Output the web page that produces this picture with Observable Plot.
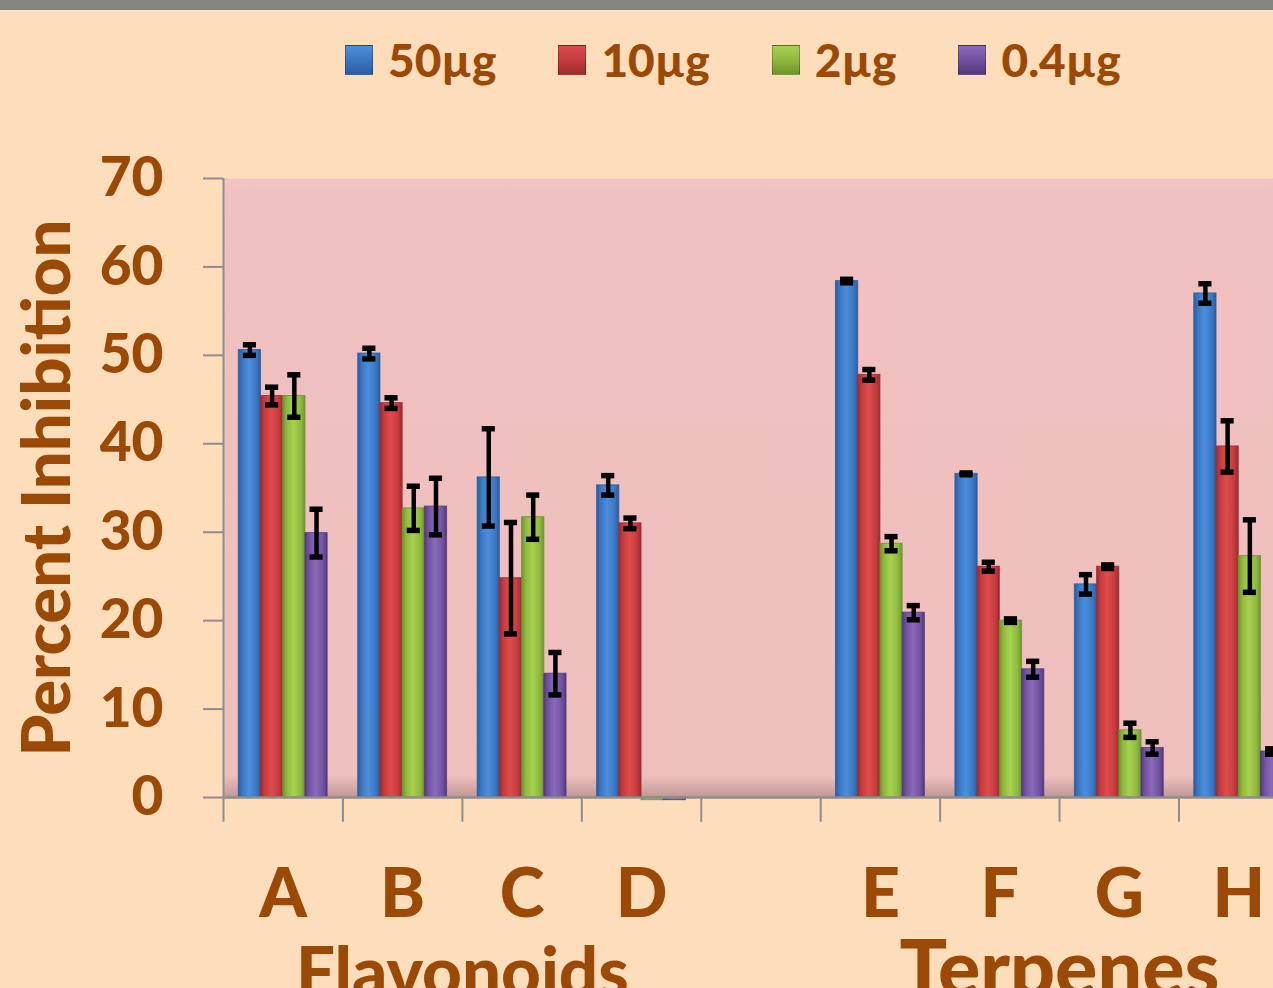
<!DOCTYPE html>
<html><head><meta charset="utf-8">
<script src="https://cdn.jsdelivr.net/npm/d3@7"></script>
<script src="https://cdn.jsdelivr.net/npm/@observablehq/plot@0.6"></script>
<style>
html,body{margin:0;padding:0;}
body{width:1273px;height:988px;overflow:hidden;background:#FEDDBA;position:relative;font-family:Lato,"Open Sans",sans-serif;}
#strip{position:absolute;left:0;top:0;width:1273px;height:10px;background:#86867f;border-bottom:2px solid #F8E6D0;z-index:2}
#legend{position:absolute;top:34px;left:345px;display:flex;align-items:center;gap:62px;font-weight:900;font-size:46px;line-height:52px;color:#9A4A06;z-index:2}
.item{display:flex;align-items:center;gap:15px}
.sw{width:28px;height:30px;box-sizing:border-box;border:1px solid rgba(0,0,0,0.25)}
#chart{position:absolute;left:0;top:0}
</style></head>
<body>
<div id="strip"></div>
<div id="legend"></div>
<div id="chart"></div>
<script>
// ---- data ----
const categories = ["A", "B", "C", "D", "", "E", "F", "G", "H"];
const series = ["50µg", "10µg", "2µg", "0.4µg"];
const values50 = [50.6, 50.2, 36.2, 35.3, null, 58.4, 36.6, 24.1, 57.0];
const errors50 = [0.6, 0.6, 5.5, 1.1, null, 0.2, 0.1, 1.1, 1.1];
const values10 = [45.4, 44.6, 24.8, 31.0, null, 47.8, 26.1, 26.1, 39.7];
const errors10 = [1.0, 0.6, 6.3, 0.6, null, 0.6, 0.5, 0.2, 2.9];
const values2 = [45.4, 32.7, 31.7, -0.3, null, 28.7, 20.0, 7.6, 27.3];
const errors2 = [2.4, 2.5, 2.5, 0, null, 0.8, 0.2, 0.8, 4.1];
const values04 = [29.9, 32.9, 14.0, -0.3, null, 20.9, 14.5, 5.6, 5.2];
const errors04 = [2.7, 3.2, 2.4, 0, null, 0.8, 0.9, 0.7, 0.3];
const groups = [
  {name: "Flavonoids", members: ["A", "B", "C", "D"]},
  {name: "Terpenes", members: ["E", "F", "G", "H"]}
];
const yTicks = [0, 10, 20, 30, 40, 50, 60, 70];

// ---- styles ----
const brown = "#9A4A06";
const axisGray = "#8E8E8E";
const gradients = [
  ["#2B5C9E", "#3A77C3", "#4C8EDC"],
  ["#9C2B2D", "#C63B3D", "#DE4C4C"],
  ["#6E9430", "#8DB93D", "#A9D150"],
  ["#53397B", "#7151A1", "#8B6AB8"]
];
const barW = 0.186;                 // fraction of a category band
const groupPad = (1 - 4 * barW) / 2;
const capHalf = 0.055;

const valueCols = [values50, values10, values2, values04];
const errorCols = [errors50, errors10, errors2, errors04];
const rows = [];
series.forEach((s, j) => {
  categories.forEach((c, i) => {
    const v = valueCols[j][i];
    if (v == null) return;
    rows.push({cat: c, i, j, series: s, value: v, err: errorCols[j][i],
      x1: i + groupPad + j * barW, x2: i + groupPad + (j + 1) * barW});
  });
});
rows.forEach(d => d.xc = (d.x1 + d.x2) / 2);
const errRows = rows.filter(d => d.err > 0);
const groupRows = groups.map(g => ({name: g.name,
  x: d3.mean(g.members, m => categories.indexOf(m)) + 0.5}));
const labelTicks = categories.map((c, i) => i + 0.5).filter((t, i) => categories[i] !== "");

const barMarks = series.map((s, j) => Plot.rectY(rows.filter(d => d.j === j), {
  x1: "x1", x2: "x2", y1: 0, y2: "value",
  fill: `url(#bar${j})`, stroke: gradients[j][0], strokeWidth: 1, strokeOpacity: 0.8
}));

const plot = Plot.plot({
  width: 1273,
  height: 988,
  marginTop: 178,
  marginBottom: 191,
  marginLeft: 223,
  marginRight: 0,
  style: {background: "transparent", overflow: "hidden", fontFamily: "Lato, 'Open Sans', sans-serif", fontWeight: "bold"},
  x: {type: "linear", domain: [0, categories.length], range: [223, 223 + categories.length * 119.44]},
  y: {domain: [0, 70], range: [797, 178]},
  marks: [
    Plot.frame({fill: "url(#bgfill)", stroke: null}),
    ...barMarks,
    Plot.ruleX(errRows, {x: "xc", y1: d => d.value - d.err, y2: d => d.value + d.err, stroke: "black", strokeWidth: 4.5}),
    Plot.ruleY(errRows, {x1: d => d.xc - capHalf, x2: d => d.xc + capHalf, y: d => d.value - d.err, stroke: "black", strokeWidth: 5.5}),
    Plot.ruleY(errRows, {x1: d => d.xc - capHalf, x2: d => d.xc + capHalf, y: d => d.value + d.err, stroke: "black", strokeWidth: 5.5}),
    Plot.ruleX([0], {y1: 0, y2: 70, stroke: axisGray, strokeWidth: 2}),
    Plot.ruleY([0], {stroke: axisGray, strokeWidth: 2.5}),
    Plot.ruleX(d3.range(categories.length + 1), {y1: 0, y2: -2.8, stroke: axisGray, strokeWidth: 2}),
    Plot.axisY({ticks: yTicks, tickSize: 20, tickPadding: 40, stroke: axisGray, strokeWidth: 2, fill: brown, fontSize: 55, fontWeight: 900, label: null}),
    Plot.axisX({ticks: labelTicks, tickSize: 0, tickPadding: 71, fill: brown, fontSize: 68, fontWeight: 900, label: null,
      tickFormat: t => categories[Math.floor(t)]}),
    Plot.text(["Percent Inhibition"], {frameAnchor: "left", textAnchor: "middle", dx: -175, rotate: -90, fill: brown, fontSize: 67, fontWeight: 900}),
    Plot.text(groupRows.filter(g => g.name === "Flavonoids"), {x: "x", text: "name", frameAnchor: "bottom", lineAnchor: "bottom", dy: 198, fill: brown, fontSize: 69, fontWeight: 900}),
    Plot.text(groupRows.filter(g => g.name === "Terpenes"), {x: "x", text: "name", frameAnchor: "bottom", lineAnchor: "bottom", dy: 198, fill: brown, fontSize: 79, fontWeight: 900})
  ]
});

// gradient definitions
const svg = d3.select(plot);
const defs = svg.insert("defs", ":first-child");
gradients.forEach((g, j) => {
  const lg = defs.append("linearGradient").attr("id", `bar${j}`).attr("x1", 0).attr("x2", 1).attr("y1", 0).attr("y2", 0);
  [[0, g[0]], [0.18, g[1]], [0.48, g[2]], [0.82, g[1]], [1, g[0]]].forEach(([o, c]) =>
    lg.append("stop").attr("offset", o).attr("stop-color", c));
});
const bg = defs.append("linearGradient").attr("id", "bgfill").attr("x1", 0).attr("x2", 0).attr("y1", 0).attr("y2", 1);
[[0, "#F3C4C3"], [0.03, "#F0C1C0"], [0.965, "#EFBFBE"], [1, "#BE9896"]].forEach(([o, c]) =>
  bg.append("stop").attr("offset", o).attr("stop-color", c));

document.getElementById("chart").appendChild(plot);

// legend
const legend = d3.select("#legend");
series.forEach((s, j) => {
  const it = legend.append("div").attr("class", "item");
  const g = gradients[j];
  it.append("div").attr("class", "sw")
    .style("background", `linear-gradient(180deg, ${g[2]} 0%, ${g[1]} 50%, ${g[0]} 100%)`);
  it.append("span").text(s);
});
</script>
</body></html>
